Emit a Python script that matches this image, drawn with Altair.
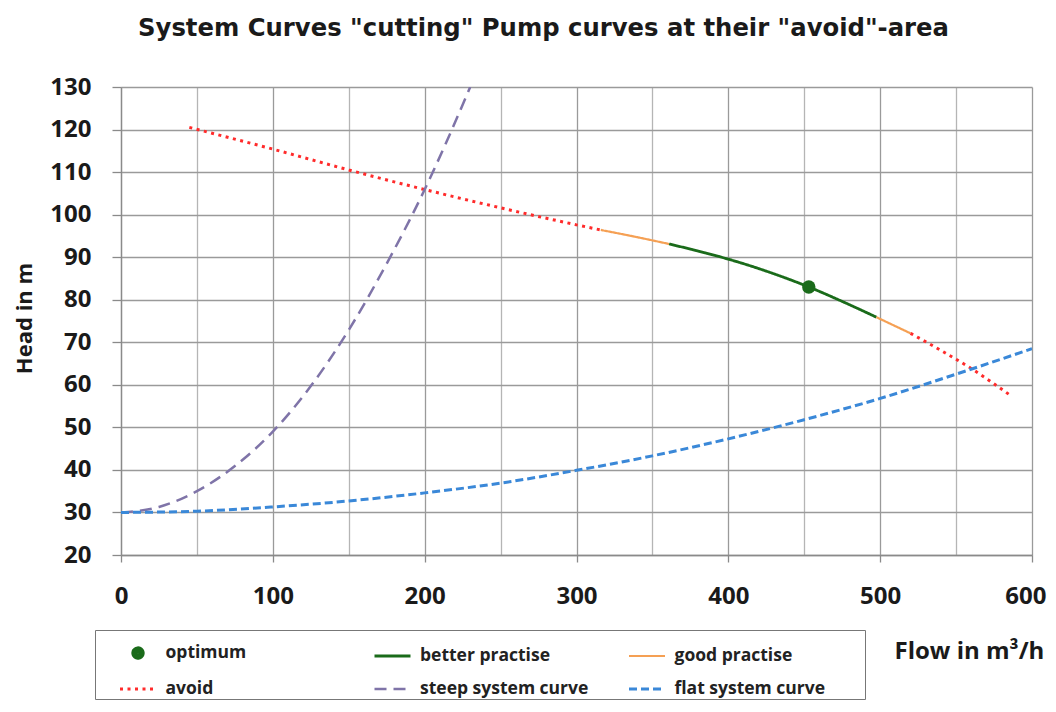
import altair as alt
import pandas as pd

TITLE = 'System Curves "cutting" Pump curves at their "avoid"-area'
X_TITLE = "Flow in m³/h"
Y_TITLE = "Head in m"

SERIES = ["optimum", "better practise", "good practise", "avoid",
          "steep system curve", "flat system curve"]
COLORS = ["#1a6b1a", "#1a6b1a", "#f5a054", "#ff2b2b", "#7f74a8", "#3a88d8"]
DASHES = [[1, 0], [1, 0], [1, 0], [3, 4.5], [12, 7], [8, 4]]
WIDTHS = [6.5, 2.8, 2.2, 3, 2.5, 3]
DOT = "M-0.19,0A0.19,0.19 0 1,0 0.19,0A0.19,0.19 0 1,0 -0.19,0Z"
SEG = "M-1,0L1,0"
# last legend cell: same segment plus an empty sub-path that widens the legend frame
SEG_WIDE = "M-1,0L1,0M11.65,0L11.65,0"
SHAPES = [DOT, SEG, SEG, SEG, SEG, SEG_WIDE]

X_TICKS = [0, 50, 100, 150, 200, 250, 300, 350, 400, 450, 500, 550, 600]
Y_TICKS = [20, 25, 30, 35, 40, 45, 50, 55, 60, 65, 70, 75, 80, 85, 90, 95,
           100, 105, 110, 115, 120, 125, 130]

# pump curve segments
avoid1_q = [45, 100, 150, 200, 250, 300, 316]
avoid1_h = [120.5, 115.4, 110.5, 105.9, 101.6, 97.6, 96.4]
good1_q = [316, 340, 361]
good1_h = [96.4, 94.7, 93.1]
better_q = [361, 385, 407, 430, 453, 475, 497.5]
better_h = [93.1, 91.0, 88.8, 86.1, 83.0, 79.6, 75.9]
good2_q = [497.5, 520]
good2_h = [75.9, 72.1]
avoid2_q = [520, 540, 561, 587]
avoid2_h = [72.1, 68.1, 63.6, 57.2]

# system curves
steep_q = [0, 25, 50, 75, 100, 125, 150, 175, 200, 215, 230]
steep_h = [30, 31.3, 35.0, 40.9, 49.0, 59.7, 72.9, 88.5, 105.9, 117.6, 130]
flat_q = [0, 50, 100, 150, 200, 250, 300, 350, 400, 450, 500, 550, 600]
flat_h = [30, 30.3, 31.3, 32.7, 34.6, 36.9, 39.9, 43.3, 47.3, 51.8, 56.8, 62.5, 68.5]

opt_q = [453]
opt_h = [83.0]

rows = []
for seg, name, qs, hs in [
    ("a1", "avoid", avoid1_q, avoid1_h),
    ("g1", "good practise", good1_q, good1_h),
    ("b", "better practise", better_q, better_h),
    ("g2", "good practise", good2_q, good2_h),
    ("a2", "avoid", avoid2_q, avoid2_h),
    ("s", "steep system curve", steep_q, steep_h),
    ("f", "flat system curve", flat_q, flat_h),
]:
    for i, (q, h) in enumerate(zip(qs, hs)):
        rows.append({"q": q, "h": h, "series": name, "seg": seg, "idx": i})
lines_df = pd.DataFrame(rows)
opt_df = pd.DataFrame({"q": opt_q, "h": opt_h, "series": ["optimum"]})

FONT = "Open Sans"
NBSP = "\u00a0"

legend = alt.Legend(
    title=NBSP, titleOrient="left", titleFontSize=1, titlePadding=20,
    orient="none", direction="horizontal", legendX=-26, legendY=543,
    columns=3, gridAlign="all", columnPadding=13.5, rowPadding=0, padding=1.5,
    strokeColor="#777", fillColor="white",
    symbolSize=1296, symbolOpacity=1,
    labelFont=FONT, labelFontSize=17.5, labelFontWeight="bold", labelColor="#222",
    labelOffset=6, labelLimit=0,
)

major_x = "datum.value % 100 === 0"
major_y = "datum.value % 10 === 0"
last_x = "datum.value === 600"

x_enc = alt.X(
    "q:Q",
    scale=alt.Scale(domain=[0, 600], nice=False, zero=False),
    axis=alt.Axis(
        values=X_TICKS,
        labelExpr=f"{major_x} ? datum.label : ''",
        labelAlign={"condition": {"test": last_x, "value": "right"}, "value": "center"},
        labelOffset={"condition": {"test": last_x, "value": 14}, "value": 0},
        tickOpacity={"condition": {"test": major_x, "value": 1}, "value": 0},
        gridColor={"condition": {"test": major_x, "value": "#9a9a9a"}, "value": "#b5b5b5"},
        gridWidth=1.3,
        tickColor="#8a8a8a", tickSize=7, tickWidth=1.3,
        domainColor="#8a8a8a", domainWidth=1.3,
        labelFont=FONT, labelFontSize=24, labelFontWeight="bold", labelColor="#1a1a1a",
        labelPadding=22, labelFlush=False,
        title=X_TITLE, titleFont=FONT, titleFontSize=24, titleFontWeight="bold",
        titleColor="#1a1a1a", titleAlign="left", titleBaseline="middle",
        titleX=773, titleY=96, titleAnchor="start",
    ),
)
y_enc = alt.Y(
    "h:Q",
    scale=alt.Scale(domain=[20, 130], nice=False, zero=False),
    axis=alt.Axis(
        values=Y_TICKS,
        labelExpr=f"{major_y} ? datum.label : ''",
        tickOpacity={"condition": {"test": major_y, "value": 1}, "value": 0},
        gridColor={"condition": {"test": major_y, "value": "#9a9a9a"}, "value": "#b5b5b5"},
        gridWidth=1.3,
        tickColor="#8a8a8a", tickSize=9, tickWidth=1.3,
        domainColor="#8a8a8a", domainWidth=1.3,
        labelFont=FONT, labelFontSize=24, labelFontWeight="bold", labelColor="#1a1a1a",
        labelPadding=21, labelFlush=False,
        title=Y_TITLE, titleFont=FONT, titleFontSize=22, titleFontWeight="bold",
        titleColor="#1a1a1a", titleAngle=-90, titleAlign="center", titleBaseline="middle",
        titleX=-97, titleY=231,
    ),
)

color_enc = alt.Color("series:N", scale=alt.Scale(domain=SERIES, range=COLORS), legend=legend)
dash_enc = alt.StrokeDash("series:N", scale=alt.Scale(domain=SERIES, range=DASHES), legend=legend)
width_enc = alt.StrokeWidth(
    "series:N", scale=alt.Scale(type="ordinal", domain=SERIES, range=WIDTHS), legend=legend
)

line_layer = alt.Chart(lines_df).mark_line(
    clip=True, strokeCap="butt", interpolate="monotone"
).encode(
    x=x_enc,
    y=y_enc,
    color=color_enc,
    strokeDash=dash_enc,
    strokeWidth=width_enc,
    detail="seg:N",
    order="idx:Q",
)

# empty layer that only contributes the legend symbol shapes
legend_layer = alt.Chart(lines_df).transform_filter("false").mark_point(
    filled=False, opacity=1
).encode(
    x="q:Q",
    y="h:Q",
    color=color_enc,
    strokeWidth=width_enc,
    shape=alt.Shape("series:N", scale=alt.Scale(domain=SERIES, range=SHAPES), legend=legend),
)

point_layer = alt.Chart(opt_df).mark_point(
    filled=True, opacity=1, size=180, color="#1a6b1a"
).encode(x="q:Q", y="h:Q")

chart = alt.layer(line_layer, legend_layer, point_layer).properties(
    width=911,
    height=468,
    autosize=alt.AutoSizeParams(type="none"),
    padding={"left": 113, "top": 79, "right": 16, "bottom": 149},
    title=alt.TitleParams(
        TITLE, font="DejaVu Sans", fontSize=24.3, fontWeight="bold", color="#1a1a1a",
        anchor="middle", frame="group", dx=-33, offset=33.5,
    ),
).configure_view(stroke=None)

chart.save("out.html", embed_options={"renderer": "svg", "actions": False})
